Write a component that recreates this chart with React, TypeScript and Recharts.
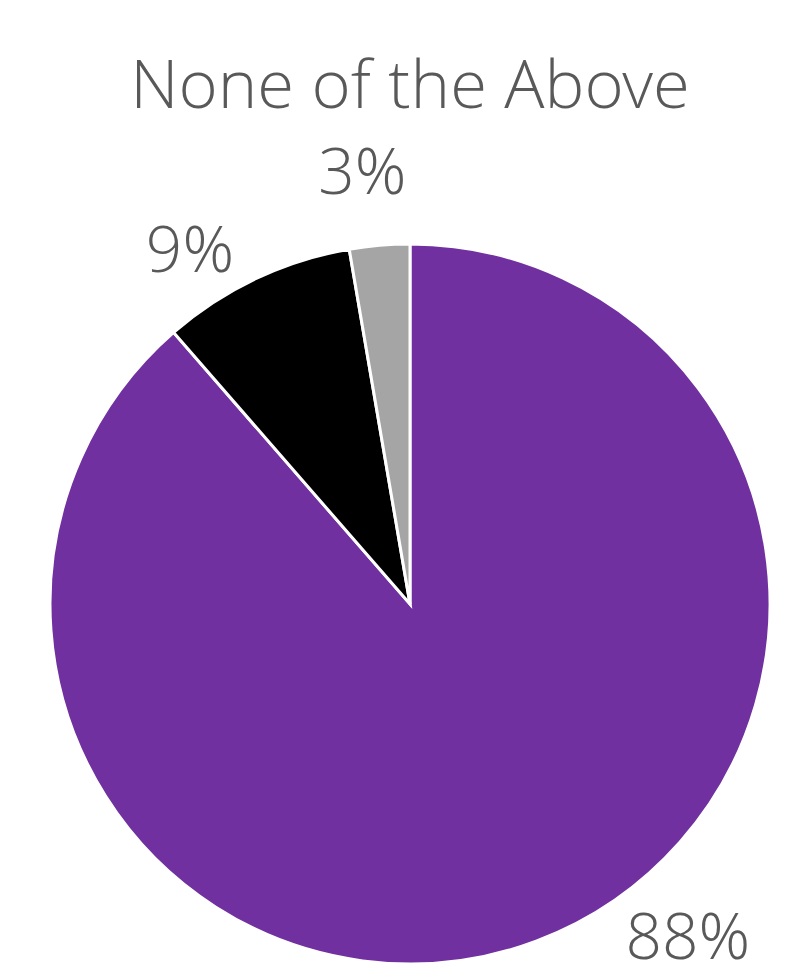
import React from "react";
import { PieChart, Pie, Cell } from "recharts";

const categories = ["Purple", "Black", "Gray"];
const values = [88.6, 8.7, 2.7];
const labels = ["88%", "9%", "3%"];
const colors = ["#7030A0", "#000000", "#A5A5A5"];
const title = "None of the Above";

const data = categories.map((name, i) => ({ name, value: values[i], label: labels[i] }));

const RADIAN = Math.PI / 180;
const angleShift = [19.5, 6.3, 1.4];
const radiusShift = [72, 59, 77];
const FONT = "'Open Sans Light', 'Open Sans', 'Noto Sans', sans-serif";

const renderLabel = (props: any) => {
  const { cx, cy, midAngle, outerRadius, index } = props;
  const a = (midAngle + angleShift[index]) * RADIAN;
  const r = outerRadius + radiusShift[index];
  const x = cx + Math.cos(a) * r;
  const y = cy - Math.sin(a) * r;
  return (
    <text
      x={x}
      y={y}
      textAnchor="middle"
      dominantBaseline="central"
      fill="#595959"
      fontSize={64}
      fontWeight={300}
      fontFamily={FONT}
    >
      {labels[index]}
    </text>
  );
};

export default function App() {
  return (
    <div style={{ position: "absolute", left: 0, top: 0, width: 792, height: 967, background: "#fff" }}>
      <div
        style={{
          position: "absolute",
          left: 0,
          top: 37,
          width: 820,
          textAlign: "center",
          fontFamily: FONT,
          fontWeight: 300,
          fontSize: 67,
          lineHeight: "90px",
          color: "#595959",
        }}
      >
        {title}
      </div>
      <PieChart
        width={792}
        height={967}
        margin={{ top: 0, right: 0, bottom: 0, left: 0 }}
        style={{ position: "absolute", left: 0, top: 0 }}
      >
        <Pie
          data={data}
          dataKey="value"
          nameKey="name"
          cx={410}
          cy={604}
          outerRadius={360}
          startAngle={90}
          endAngle={-270}
          stroke="#ffffff"
          strokeWidth={3}
          label={renderLabel}
          labelLine={false}
          isAnimationActive={false}
        >
          {data.map((d, i) => (
            <Cell key={d.name} fill={colors[i]} />
          ))}
        </Pie>
      </PieChart>
    </div>
  );
}
